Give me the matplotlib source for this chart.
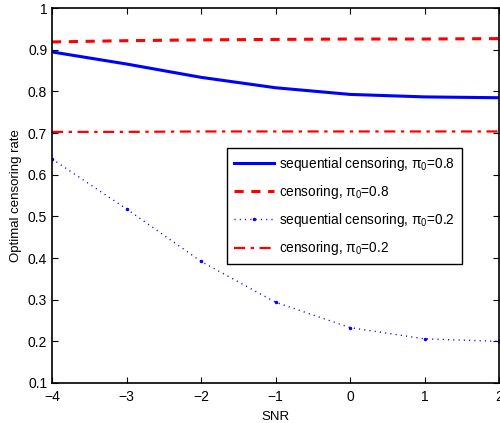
import matplotlib
matplotlib.use('Agg')
import matplotlib.pyplot as plt

# data
snr = [-4, -3, -2, -1, 0, 1, 2]
seq_08 = [0.895, 0.866, 0.834, 0.809, 0.793, 0.787, 0.785]
cens_08 = [0.919, 0.922, 0.924, 0.925, 0.926, 0.926, 0.927]
seq_02 = [0.638, 0.518, 0.392, 0.294, 0.233, 0.206, 0.200]
cens_02 = [0.703, 0.703, 0.704, 0.704, 0.704, 0.704, 0.704]

plt.rcParams['font.family'] = ['Liberation Sans', 'DejaVu Sans']
plt.rcParams['mathtext.fontset'] = 'custom'
plt.rcParams['mathtext.rm'] = 'Liberation Sans'
plt.rcParams['mathtext.it'] = 'Liberation Sans'

fig = plt.figure(figsize=(5.0, 4.23), dpi=100)
ax = fig.add_axes([0.104, 0.0946, 0.894, 0.886])

ax.plot(snr, seq_08, color='#0000ff', lw=2.2, label=r'sequential censoring, $\pi_0$=0.8')
ax.plot(snr, cens_08, color='#ff0000', lw=2.2, ls=(0, (3, 2.5)), label=r'censoring, $\pi_0$=0.8')
ax.plot(snr, seq_02, color='#0000ff', lw=1.0, ls=(0, (0.8, 3.0)), marker='.', ms=3,
        label=r'sequential censoring, $\pi_0$=0.2')
ax.plot(snr, cens_02, color='#ff0000', lw=1.6, ls=(0, (5, 2.5, 1.5, 2.5)), label=r'censoring, $\pi_0$=0.2')

ax.set_xlim(-4, 2)
ax.set_ylim(0.1, 1)
ax.set_xticks(snr)
ax.set_xticklabels(['\u22124', '\u22123', '\u22122', '\u22121', '0', '1', '2'])
ax.set_yticks([0.1, 0.2, 0.3, 0.4, 0.5, 0.6, 0.7, 0.8, 0.9, 1.0])
ax.set_yticklabels(['0.1', '0.2', '0.3', '0.4', '0.5', '0.6', '0.7', '0.8', '0.9', '1'])
ax.tick_params(direction='in', top=True, right=True, labelsize=10, length=4, width=0.8)
ax.tick_params(axis='x', pad=5)
for s in ax.spines.values():
    s.set_linewidth(1.2)

ax.set_xlabel('SNR', fontsize=9.5, labelpad=5)
ax.set_ylabel('Optimal censoring rate', fontsize=9.5, labelpad=4)

leg = ax.legend(loc='upper left', bbox_to_anchor=(0.391, 0.627), borderaxespad=0,
                fontsize=9.8, fancybox=False, edgecolor='black', framealpha=1,
                handlelength=3.0, handletextpad=0.35, labelspacing=0.75,
                borderpad=0.5)
leg.get_frame().set_linewidth(1.0)

fig.savefig('out.png', dpi=100)
